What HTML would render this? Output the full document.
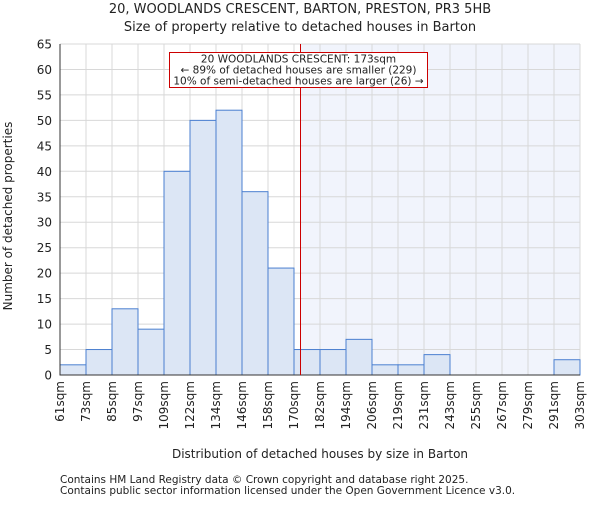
<!DOCTYPE html>
<html><head><meta charset="utf-8"><style>
body{margin:0;background:#fff}
svg text{font-family:"DejaVu Sans","Liberation Sans",sans-serif;fill:#222}
</style></head><body>
<svg id="chart" width="600" height="500" xmlns="http://www.w3.org/2000/svg">
<text x="300" y="13" font-size="13" text-anchor="middle">20, WOODLANDS CRESCENT, BARTON, PRESTON, PR3 5HB</text>
<text x="300" y="31" font-size="13" text-anchor="middle">Size of property relative to detached houses in Barton</text>
<g id="grid"></g><g id="bars"></g><g id="axes"></g>
<text x="320" y="458" font-size="12" text-anchor="middle">Distribution of detached houses by size in Barton</text>
<text transform="translate(12,216) rotate(-90)" font-size="12" text-anchor="middle">Number of detached properties</text>
<text x="60" y="483" font-size="10.5">Contains HM Land Registry data © Crown copyright and database right 2025.</text>
<text x="60" y="494" font-size="10.5">Contains public sector information licensed under the Open Government Licence v3.0.</text>
</svg>
<script>
const labels=["61sqm","73sqm","85sqm","97sqm","109sqm","122sqm","134sqm","146sqm","158sqm","170sqm","182sqm","194sqm","206sqm","219sqm","231sqm","243sqm","255sqm","267sqm","279sqm","291sqm","303sqm"];
const edges=[61,73,85,97,109,122,134,146,158,170,182,194,206,219,231,243,255,267,279,291,303];
const counts=[2,5,13,9,40,50,52,36,21,5,5,7,2,2,4,0,0,0,0,3];
const yTicks=[0,5,10,15,20,25,30,35,40,45,50,55,60,65];
const propertySize=173;
const annLines=["20 WOODLANDS CRESCENT: 173sqm","← 89% of detached houses are smaller (229)","10% of semi-detached houses are larger (26) →"];
const NS="http://www.w3.org/2000/svg";
const X0=60,X1=580,Y0=375,Y1=44,nb=counts.length;
const xi=i=>X0+(X1-X0)*i/nb;
function xv(v){for(let i=0;i<edges.length-1;i++){if(v<=edges[i+1])return xi(i)+(v-edges[i])/(edges[i+1]-edges[i])*(xi(i+1)-xi(i));}return X1;}
const y=v=>Y0-(Y0-Y1)*v/65;
function mk(t,a,p){const e=document.createElementNS(NS,t);for(const k in a)e.setAttribute(k,a[k]);p.appendChild(e);return e;}
const grid=document.getElementById('grid'),bars=document.getElementById('bars'),axes=document.getElementById('axes'),svg=document.getElementById('chart');
const px=xv(propertySize);
const sh=mk('rect',{x:px,y:Y1,width:X1-px,height:Y0-Y1,fill:'#f1f4fc'},grid);


for(let i=0;i<=nb;i++){const l=mk('line',{x1:xi(i),x2:xi(i),y1:Y1,y2:Y0,stroke:'#d8d8d8','stroke-width':1},grid);

}
yTicks.forEach(t=>{const l=mk('line',{x1:X0,x2:X1,y1:y(t),y2:y(t),stroke:'#d8d8d8','stroke-width':1},grid);


const tx=mk('text',{x:X0-8,y:y(t)+4.5,'font-size':12,'text-anchor':'end'},axes);tx.textContent=t;

});
counts.forEach((c,i)=>{if(c<=0)return;const r=mk('rect',{x:xi(i),y:y(c),width:xi(i+1)-xi(i),height:Y0-y(c),fill:'#dce6f5',stroke:'#4a7fd0','stroke-width':1},bars);

});
labels.forEach((s,i)=>{const tx=mk('text',{transform:`translate(${xi(i)+4},381) rotate(-90)`,'font-size':12,'text-anchor':'end'},axes);tx.textContent=s;

});
const ax=mk('path',{d:`M${X0},${Y1}V${Y0}H${X1}`,fill:'none',stroke:'#333','stroke-width':1},axes);


const rl=mk('line',{x1:px,x2:px,y1:Y1,y2:Y0,stroke:'#cc0000','stroke-width':1},axes);


const box=mk('rect',{x:169.5,y:52.5,width:258,height:35,fill:'#fff',stroke:'#cc0000','stroke-width':1},svg);


annLines.forEach((s,i)=>{const tx=mk('text',{x:298.5,y:62.5+i*11,'font-size':10.5,'text-anchor':'middle'},svg);tx.textContent=s;

});
</script>
</body></html>
